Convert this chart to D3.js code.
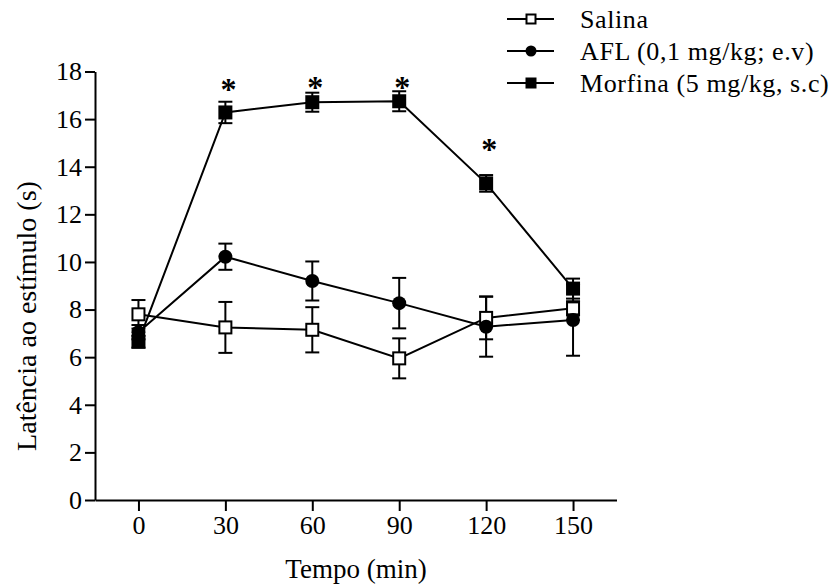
<!DOCTYPE html>
<html><head><meta charset="utf-8">
<script src="https://cdn.jsdelivr.net/npm/d3@7"></script>
<style>
body{margin:0;background:#fff;}
text{font-family:"Liberation Serif","Times New Roman",serif;fill:#000;}
</style></head>
<body><svg id="c" width="833" height="587"></svg>
<script>
const times = [0, 30, 60, 90, 120, 150];
const xTicks = [0, 30, 60, 90, 120, 150];
const yTicks = [0, 2, 4, 6, 8, 10, 12, 14, 16, 18];
const salinaMean = [7.8, 7.25, 7.15, 5.95, 7.65, 8.05];
const salinaSem  = [0.6, 1.07, 0.95, 0.84, 0.9, 0.3];
const aflMean = [7.05, 10.22, 9.2, 8.27, 7.28, 7.56];
const aflSem  = [0.3, 0.55, 0.82, 1.06, 1.26, 1.5];
const morfMean = [6.65, 16.28, 16.71, 16.75, 13.3, 8.88];
const morfSem  = [0.25, 0.45, 0.4, 0.42, 0.35, 0.42];
const starTimes = [30, 60, 90, 120];
const starY = [17.45, 17.5, 17.5, 14.9];
const seriesNames = ["Salina", "AFL (0,1 mg/kg; e.v)", "Morfina (5 mg/kg, s.c)"];
const xTitle = "Tempo (min)";
const yTitle = "Latência ao estímulo (s)";

const svg = d3.select("#c");
const x = d3.scaleLinear().domain([-15, 165]).range([95, 616.5]);
const y = d3.scaleLinear().domain([0, 18]).range([500, 71.5]);

// axes
const xAxis = svg.append("g").attr("transform", `translate(0,${y(0)})`)
  .call(d3.axisBottom(x).tickValues(xTicks).tickSize(11).tickSizeOuter(0).tickPadding(5));
const yAxis = svg.append("g").attr("transform", `translate(${x(-15)},0)`)
  .call(d3.axisLeft(y).tickValues(yTicks).tickSize(10).tickSizeOuter(0).tickPadding(3));
[xAxis, yAxis].forEach(g => {
  g.selectAll("path,line").attr("stroke", "#000").attr("stroke-width", 2);
  g.selectAll("text").style("font-family", '"Liberation Serif",serif').style("font-size", "26px").attr("fill", "#000");
});

svg.append("text").attr("x", 356).attr("y", 578).attr("text-anchor", "middle")
  .style("font-size", "27px").text(xTitle);
svg.append("text").attr("transform", "translate(36,316) rotate(-90)").attr("text-anchor", "middle")
  .style("font-size", "28px").text(yTitle);

const series = [
  {mean: salinaMean, sem: salinaSem, type: "open"},
  {mean: aflMean, sem: aflSem, type: "circle"},
  {mean: morfMean, sem: morfSem, type: "square"}
];
const cap = 7;
const line = d3.line().x(d => x(d[0])).y(d => y(d[1]));

// error bars
series.forEach(s => {
  const g = svg.append("g").attr("stroke", "#000").attr("stroke-width", 2);
  times.forEach((t, i) => {
    const cx = x(t), top = y(s.mean[i] + s.sem[i]), bot = y(s.mean[i] - s.sem[i]);
    g.append("line").attr("x1", cx).attr("x2", cx).attr("y1", top).attr("y2", bot);
    g.append("line").attr("x1", cx - cap).attr("x2", cx + cap).attr("y1", top).attr("y2", top);
    g.append("line").attr("x1", cx - cap).attr("x2", cx + cap).attr("y1", bot).attr("y2", bot);
  });
});
// lines
series.forEach(s => {
  svg.append("path").datum(times.map((t, i) => [t, s.mean[i]]))
    .attr("d", line).attr("fill", "none").attr("stroke", "#000").attr("stroke-width", 2);
});
function marker(g, type, cx, cy, size) {
  if (type === "circle") {
    g.append("circle").attr("cx", cx).attr("cy", cy).attr("r", size / 2).attr("fill", "#000");
  } else if (type === "square") {
    g.append("rect").attr("x", cx - size / 2).attr("y", cy - size / 2).attr("width", size).attr("height", size).attr("fill", "#000");
  } else {
    g.append("rect").attr("x", cx - size / 2 + 1).attr("y", cy - size / 2 + 1).attr("width", size - 2).attr("height", size - 2)
      .attr("fill", "#fff").attr("stroke", "#000").attr("stroke-width", 2);
  }
}
[0, 1, 2].forEach(k => {
  const s = series[k];
  const g = svg.append("g");
  times.forEach((t, i) => marker(g, s.type, x(t), y(s.mean[i]), 14));
});
// asterisks
svg.append("g").selectAll("text").data(starTimes).join("text")
  .attr("x", (d) => x(d) + 3).attr("y", (d, i) => y(starY[i]) + 15)
  .attr("text-anchor", "middle").style("font-size", "32px").style("font-weight", "bold").text("*");

// legend
const legRows = [19, 51, 83];
const types = ["open", "circle", "square"];
seriesNames.forEach((n, i) => {
  const g = svg.append("g");
  g.append("line").attr("x1", 507).attr("x2", 554).attr("y1", legRows[i]).attr("y2", legRows[i])
    .attr("stroke", "#000").attr("stroke-width", 2);
  marker(g, types[i], 531, legRows[i], 11);
  g.append("text").attr("x", 580).attr("y", legRows[i]).attr("dy", "0.35em")
    .style("font-size", "26px").style("letter-spacing", "0.6px").text(n);
});
</script></body></html>
